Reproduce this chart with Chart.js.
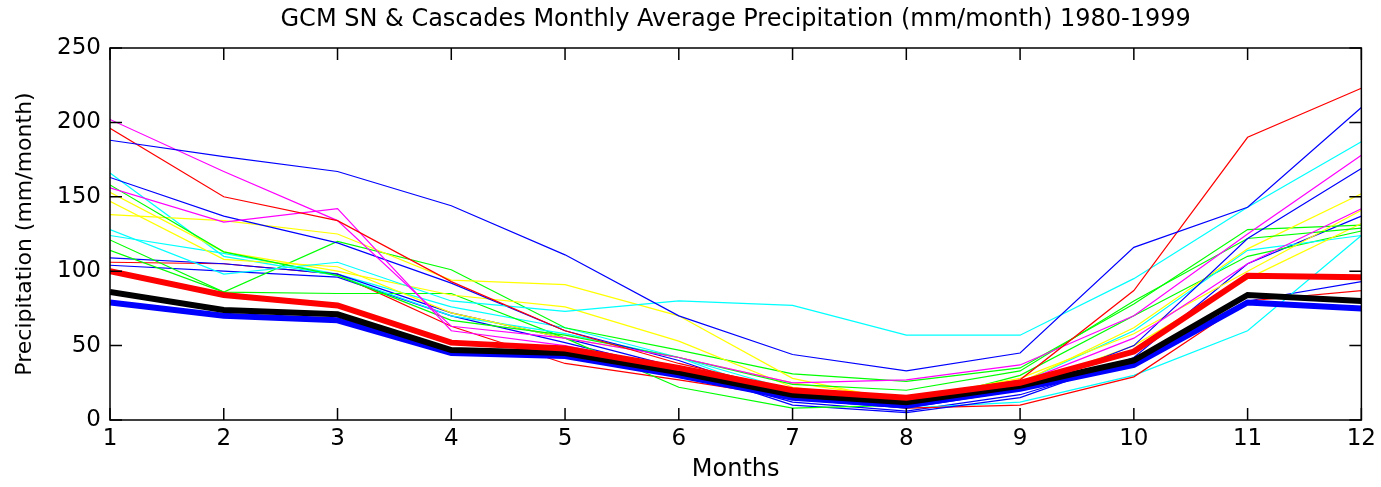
<!DOCTYPE html>
<html>
<head>
<meta charset="utf-8">
<style>
  html, body { margin: 0; padding: 0; background: #ffffff; }
  #wrap { width: 1381px; height: 487px; }
</style>
<script src="https://cdn.jsdelivr.net/npm/chart.js@4.4.1/dist/chart.umd.min.js"></script>
</head>
<body>
<div id="wrap"><canvas id="c" width="1381" height="487"></canvas></div>
<script>
// ---- data ----
const months = [1,2,3,4,5,6,7,8,9,10,11,12];
const yTicks = [0,50,100,150,200,250];
const chartTitle = 'GCM SN & Cascades Monthly Average Precipitation (mm/month) 1980-1999';
const xTitle = 'Months';
const yTitle = 'Precipitation (mm/month)';

// thick summary lines
const thickRed   = [100,84,77,52,48,35,20,15,25,46,97,96];
const thickBlack = [86,74,71,47,45,32,17,12,23,40,84,80];
const thickBlue  = [79,70,67,45,43,30,15,10,21,37,79,75];

// thin model lines
const blue1    = [188,177,167,144,111,70,44,33,45,116,143,210];
const red1     = [196,150,134,93,60,38,20,14,27,87,190,223];
const magenta1 = [202,167,134,63,55,42,25,27,37,70,125,178];
const magenta2 = [156,133,142,60,50,35,18,12,25,55,105,142];
const cyan2    = [128,98,106,80,73,80,77,57,57,95,143,187];
const blue2    = [163,137,119,92,60,40,14,8,20,50,122,169];
const green1   = [158,113,97,67,57,42,24,20,33,80,122,129];
const yellow1  = [153,113,100,84,76,53,22,13,25,62,115,152];
const yellow2  = [147,108,103,72,55,42,25,14,28,58,100,141];
const yellow3  = [138,134,125,94,91,70,28,12,22,50,95,132];
const cyan1    = [166,110,97,70,58,42,20,12,25,60,114,124];
const green2   = [121,86,120,101,62,47,31,26,35,78,128,131];
const green3   = [114,86,85,85,55,22,8,10,30,70,110,127];
const blue3    = [109,105,98,72,55,35,10,5,15,42,105,137];
const red2     = [106,105,98,63,38,27,15,8,10,29,80,87];
const cyan3    = [124,112,98,76,62,42,14,8,12,30,60,124];
const blue4    = [104,100,96,70,52,33,12,6,17,40,80,93];

const thinSeries = [
  [blue1,'#0000ff'],[red1,'#ff0000'],[magenta1,'#ff00ff'],[magenta2,'#ff00ff'],
  [cyan2,'#00ffff'],[blue2,'#0000ff'],[green1,'#00ff00'],[yellow1,'#ffff00'],
  [yellow2,'#ffff00'],[yellow3,'#ffff00'],[cyan1,'#00ffff'],[green2,'#00ff00'],
  [green3,'#00ff00'],[blue3,'#0000ff'],[red2,'#ff0000'],[cyan3,'#00ffff'],[blue4,'#0000ff']
];

const toPts = arr => arr.map((v,i) => ({x: months[i], y: v}));

const datasets = [];
datasets.push({data: toPts(thickRed),   borderColor: '#ff0000', borderWidth: 6});
datasets.push({data: toPts(thickBlack), borderColor: '#000000', borderWidth: 6});
datasets.push({data: toPts(thickBlue),  borderColor: '#0000ff', borderWidth: 6});
thinSeries.forEach(([arr,col]) => datasets.push({data: toPts(arr), borderColor: col, borderWidth: 1.2}));
datasets.forEach(d => { d.pointRadius = 0; d.tension = 0; d.fill = false; d.borderJoinStyle = 'miter'; });

const FONT = '"DejaVu Sans", "Liberation Sans", Arial, sans-serif';

const boxPlugin = {
  id: 'boxPlugin',
  afterDatasetsDraw(chart) {
    const {ctx, chartArea: a, scales} = chart;
    ctx.save();
    ctx.strokeStyle = '#000';
    ctx.lineWidth = 1.5;
    ctx.strokeRect(a.left, a.top, a.right - a.left, a.bottom - a.top);
    const tl = 12;
    ctx.beginPath();
    months.forEach(m => {
      const px = scales.x.getPixelForValue(m);
      ctx.moveTo(px, a.bottom); ctx.lineTo(px, a.bottom - tl);
      ctx.moveTo(px, a.top);    ctx.lineTo(px, a.top + tl);
    });
    yTicks.forEach(v => {
      const py = scales.y.getPixelForValue(v);
      ctx.moveTo(a.left, py);  ctx.lineTo(a.left + tl, py);
      ctx.moveTo(a.right, py); ctx.lineTo(a.right - tl, py);
    });
    ctx.stroke();
    // title
    ctx.fillStyle = '#000';
    ctx.font = '24px ' + FONT;
    ctx.textAlign = 'center';
    ctx.textBaseline = 'middle';
    ctx.fillText(chartTitle, (a.left + a.right) / 2, 20);
    ctx.restore();
  }
};

new Chart(document.getElementById('c'), {
  type: 'line',
  data: { datasets },
  options: {
    responsive: false,
    animation: false,
    devicePixelRatio: 1,
    layout: { padding: { top: 48, right: 19, left: 0, bottom: 0 } },
    plugins: { legend: { display: false }, tooltip: { enabled: false }, title: { display: false } },
    scales: {
      x: {
        type: 'linear', min: 1, max: 12,
        afterBuildTicks: s => { s.ticks = months.map(v => ({value: v})); },
        afterFit: s => { s.height = 67; },
        grid: { display: false, drawTicks: false },
        border: { display: false },
        ticks: { color: '#000', font: { family: FONT, size: 23 }, padding: 5, maxRotation: 0, autoSkip: false },
        title: { display: true, text: xTitle, color: '#000', font: { family: FONT, size: 24 }, padding: { top: 0, bottom: 3 } }
      },
      y: {
        type: 'linear', min: 0, max: 250,
        afterBuildTicks: s => { s.ticks = yTicks.map(v => ({value: v})); },
        afterFit: s => { s.width = 110; },
        grid: { display: false, drawTicks: false },
        border: { display: false },
        ticks: { color: '#000', font: { family: FONT, size: 23 }, padding: 9 },
        title: { display: true, text: yTitle, color: '#000', font: { family: FONT, size: 22 }, padding: { top: 12, bottom: 0 } }
      }
    }
  },
  plugins: [boxPlugin]
});
</script>
</body>
</html>
